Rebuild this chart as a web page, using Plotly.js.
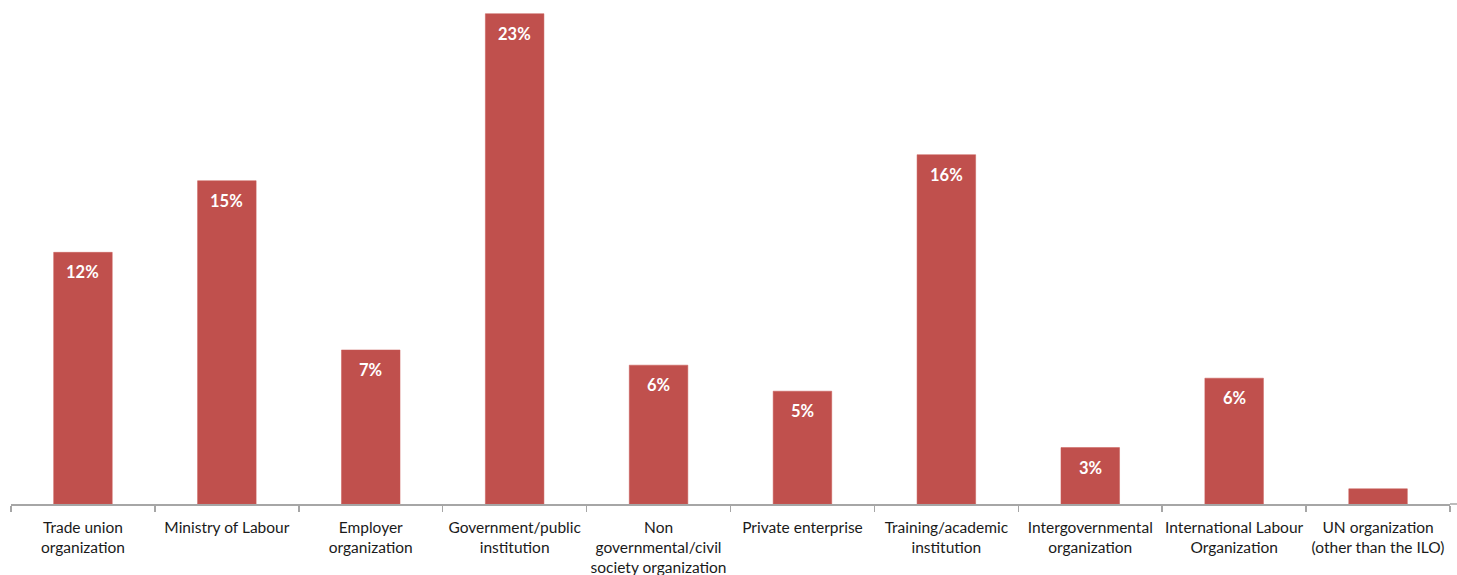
<!DOCTYPE html>
<html>
<head>
<meta charset="utf-8">
<script src="https://cdn.plot.ly/plotly-3.0.1.min.js"></script>
<style>html,body{margin:0;padding:0;background:#fff;}#chart{width:1457px;height:575px;}</style>
</head>
<body>
<div id="chart"></div>
<script>
const categories = [
  "Trade union<br>organization",
  "Ministry of Labour",
  "Employer<br>organization",
  "Government/public<br>institution",
  "Non<br>governmental/civil<br>society organization",
  "Private enterprise",
  "Training/academic<br>institution",
  "Intergovernmental<br>organization",
  "International Labour<br>Organization",
  "UN organization<br>(other than the ILO)"
];
const shares = [11.6, 14.9, 7.1, 22.6, 6.4, 5.2, 16.1, 2.6, 5.8, 0.7];

const FONT = 'Lato, "Open Sans", sans-serif';

const trace = {
  type: 'bar',
  x: categories,
  y: shares,
  marker: {color: '#C0504D', line: {color: '#C85A57', width: 0.5}},
  textposition: 'none',
  hoverinfo: 'none'
};

// labels sit inside the bar end; when the bar is too short the white label
// sits at the bar top and is mostly lost against the white background (as in the original)
const labels = categories.map((c, i) => {
  const small = shares[i] < 1.5;
  return {
    x: c, y: shares[i], xref: 'x', yref: 'y',
    text: '<b>' + Math.round(shares[i]) + '%</b>',
    showarrow: false, xanchor: 'center',
    yanchor: small ? 'bottom' : 'top', yshift: small ? -5 : -8,
    font: {family: FONT, size: 16.5, color: '#ffffff'}
  };
});

const layout = {
  width: 1457, height: 575,
  margin: {l: 11, r: 7, t: 5, b: 71},
  paper_bgcolor: '#ffffff', plot_bgcolor: '#ffffff',
  bargap: 0.593,
  showlegend: false,
  font: {family: FONT, size: 15.5, color: '#1a1a1a'},
  xaxis: {
    type: 'category',
    showline: true, linecolor: '#a6a6a6', linewidth: 1.5,
    ticks: 'outside', ticklen: 6, tickcolor: '#a6a6a6', tickwidth: 1.5,
    tickson: 'boundaries',
    tickangle: 0,
    ticklabelstandoff: 9,
    tickfont: {family: FONT, size: 15.5, color: '#1a1a1a'},
    showgrid: false, zeroline: false, fixedrange: true
  },
  yaxis: {
    range: [0, 23],
    visible: false, showgrid: false, zeroline: false, fixedrange: true
  },
  annotations: labels,
  shapes: [
    {type: 'line', xref: 'paper', yref: 'paper', x0: 1, x1: 1 + 7 / 1439, y0: 0, y1: 0,
     line: {color: '#a6a6a6', width: 1.5}}
  ]
};

Plotly.newPlot('chart', [trace], layout, {displayModeBar: false, staticPlot: true});
</script>
</body>
</html>
